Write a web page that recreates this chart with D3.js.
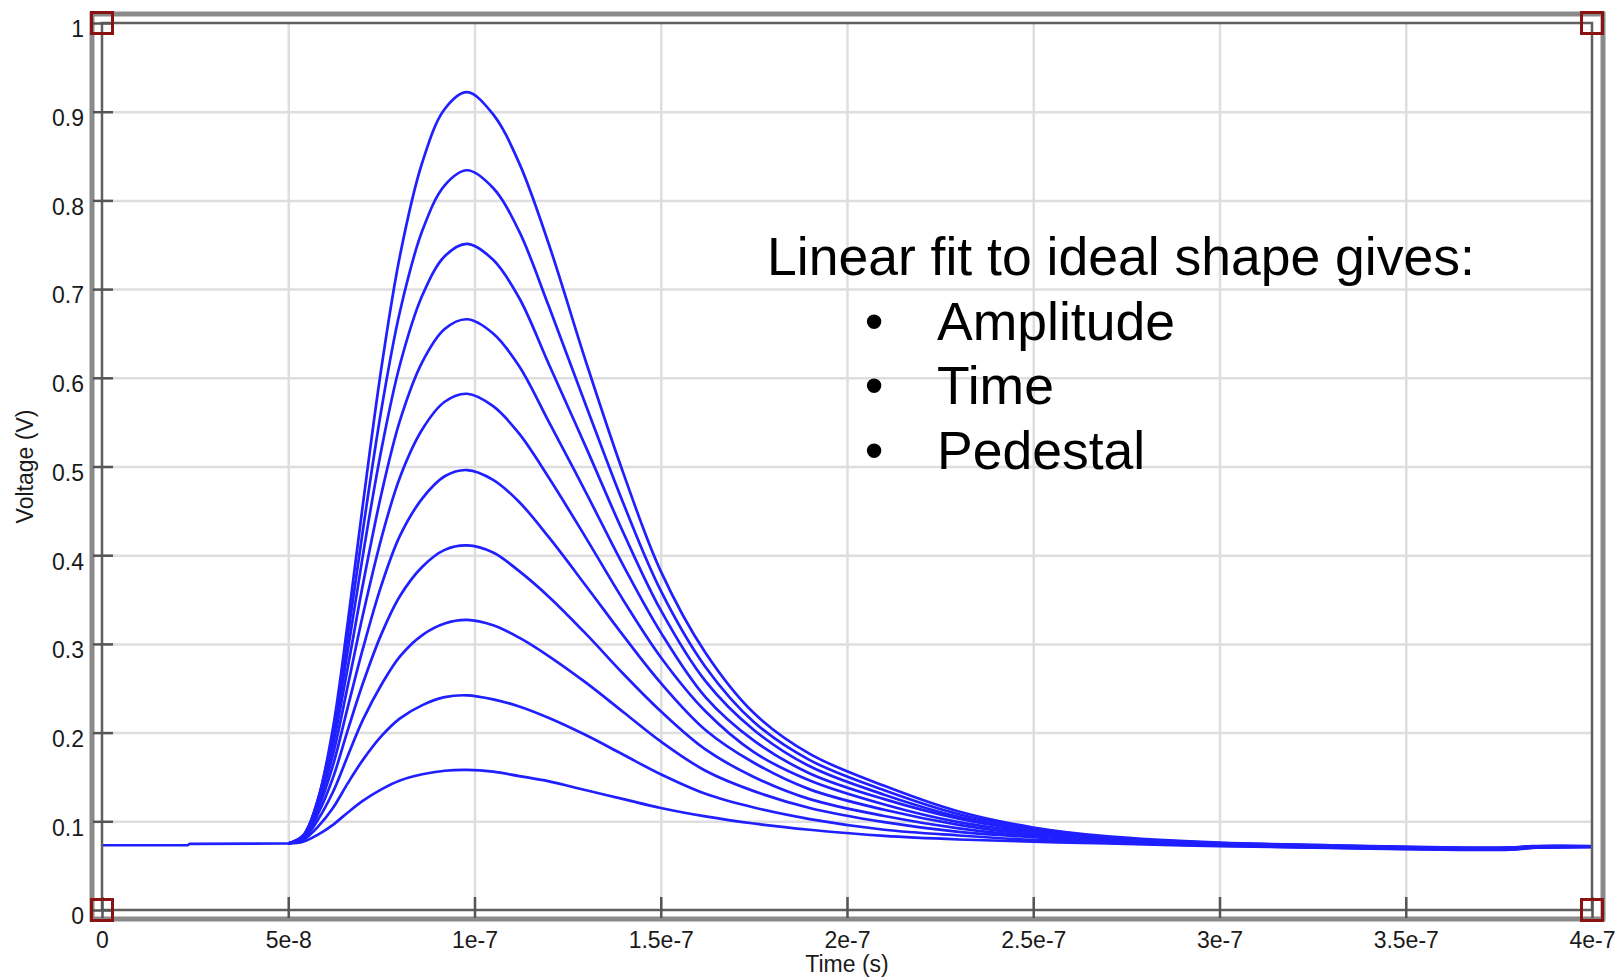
<!DOCTYPE html>
<html>
<head>
<meta charset="utf-8">
<script src="https://cdn.jsdelivr.net/npm/d3@7"></script>
<style>
  html, body { margin: 0; padding: 0; background: #ffffff; }
  svg { display: block; }
  text { font-family: "Liberation Sans", Arial, Helvetica, sans-serif; }
</style>
</head>
<body>
<svg id="chart" width="1619" height="979"></svg>
<script>
// Sample times of the pulse records (ns)
const pulseTimesNs = [50, 54, 58, 62, 66, 70, 75, 80, 86, 92, 98, 105, 112, 120, 130, 140,
  150, 162, 175, 190, 210, 230, 250, 270, 300, 330, 360, 378, 384, 400];

// Baseline before the pulses arrive (shared by all records)
const pedestalTimesNs = [0, 23, 23.5, 50];
const pedestalVolts = [0.073, 0.073, 0.0745, 0.075];

// Recorded pulses, smallest to largest (V)
const pulse1 = [0.075, 0.077, 0.085, 0.096, 0.110, 0.123, 0.136, 0.146, 0.153, 0.157, 0.158, 0.156, 0.151, 0.145, 0.135, 0.125, 0.115, 0.1055, 0.0975, 0.0905, 0.0835, 0.0795, 0.077, 0.075, 0.072, 0.0700, 0.0680, 0.0680, 0.0700, 0.0710];
const pulse2 = [0.075, 0.079, 0.094, 0.115, 0.143, 0.169, 0.196, 0.216, 0.231, 0.240, 0.242, 0.2375, 0.2295, 0.2165, 0.197, 0.175, 0.153, 0.131, 0.1155, 0.1025, 0.0905, 0.084, 0.079, 0.076, 0.0725, 0.0703, 0.0683, 0.0683, 0.0702, 0.0711];
const pulse3 = [0.075, 0.080, 0.102, 0.133, 0.174, 0.214, 0.254, 0.286, 0.310, 0.323, 0.327, 0.321, 0.307, 0.286, 0.256, 0.223, 0.190, 0.157, 0.134, 0.115, 0.099, 0.088, 0.082, 0.077, 0.073, 0.0707, 0.0686, 0.0686, 0.0704, 0.0712];
const pulse4 = [0.075, 0.081, 0.1085, 0.149, 0.203, 0.255, 0.311, 0.354, 0.387, 0.406, 0.411, 0.403, 0.382, 0.353, 0.311, 0.266, 0.224, 0.181, 0.150, 0.125, 0.106, 0.092, 0.083, 0.078, 0.0735, 0.0710, 0.0688, 0.0688, 0.0707, 0.0713];
const pulse5 = [0.075, 0.082, 0.114, 0.163, 0.229, 0.294, 0.366, 0.422, 0.464, 0.489, 0.496, 0.485, 0.460, 0.420, 0.365, 0.309, 0.256, 0.203, 0.166, 0.136, 0.113, 0.096, 0.085, 0.079, 0.074, 0.0713, 0.0691, 0.0691, 0.0709, 0.0714];
const pulse6 = [0.075, 0.083, 0.119, 0.175, 0.253, 0.332, 0.419, 0.488, 0.542, 0.573, 0.582, 0.568, 0.537, 0.487, 0.419, 0.349, 0.285, 0.224, 0.178, 0.146, 0.119, 0.099, 0.087, 0.079, 0.074, 0.0717, 0.0694, 0.0694, 0.0711, 0.0716];
const pulse7 = [0.075, 0.084, 0.122, 0.186, 0.274, 0.366, 0.469, 0.552, 0.618, 0.655, 0.666, 0.650, 0.613, 0.550, 0.470, 0.388, 0.313, 0.240, 0.191, 0.154, 0.125, 0.103, 0.089, 0.080, 0.0745, 0.0720, 0.0697, 0.0697, 0.0713, 0.0717];
const pulse8 = [0.075, 0.084, 0.124, 0.194, 0.293, 0.399, 0.519, 0.615, 0.693, 0.737, 0.751, 0.733, 0.690, 0.615, 0.521, 0.425, 0.338, 0.258, 0.203, 0.162, 0.130, 0.105, 0.090, 0.081, 0.075, 0.0723, 0.0699, 0.0699, 0.0716, 0.0718];
const pulse9 = [0.075, 0.083, 0.125, 0.200, 0.310, 0.427, 0.564, 0.675, 0.766, 0.817, 0.834, 0.814, 0.765, 0.680, 0.568, 0.458, 0.360, 0.274, 0.212, 0.169, 0.135, 0.108, 0.092, 0.082, 0.0755, 0.0727, 0.0702, 0.0702, 0.0718, 0.0719];
const pulse10 = [0.075, 0.083, 0.125, 0.205, 0.325, 0.456, 0.611, 0.738, 0.843, 0.903, 0.922, 0.897, 0.842, 0.750, 0.617, 0.492, 0.382, 0.290, 0.222, 0.176, 0.140, 0.111, 0.093, 0.083, 0.076, 0.0730, 0.0705, 0.0705, 0.0720, 0.0720];

const pulses = [pulse1, pulse2, pulse3, pulse4, pulse5, pulse6, pulse7, pulse8, pulse9, pulse10];

// Axis ticks and labels
const xTickValues = [0, 5e-8, 1e-7, 1.5e-7, 2e-7, 2.5e-7, 3e-7, 3.5e-7, 4e-7];
const xTickLabels = ["0", "5e-8", "1e-7", "1.5e-7", "2e-7", "2.5e-7", "3e-7", "3.5e-7", "4e-7"];
const yTickValues = [0, 0.1, 0.2, 0.3, 0.4, 0.5, 0.6, 0.7, 0.8, 0.9, 1];
const yTickLabels = ["0", "0.1", "0.2", "0.3", "0.4", "0.5", "0.6", "0.7", "0.8", "0.9", "1"];

const xTitle = "Time (s)";
const yTitle = "Voltage (V)";
const noteTitle = "Linear fit to ideal shape gives:";
const noteItems = ["Amplitude", "Time", "Pedestal"];

// ---- layout ----
const plot = { left: 102, right: 1592, top: 23, bottom: 910 };
const svg = d3.select("#chart");

const x = d3.scaleLinear().domain([0, 4e-7]).range([plot.left, plot.right]);
const y = d3.scaleLinear().domain([0, 1]).range([plot.bottom, plot.top]);

const defs = svg.append("defs");
defs.append("filter").attr("id", "soft")
  .attr("x", "-5%").attr("y", "-5%").attr("width", "110%").attr("height", "110%")
  .append("feGaussianBlur").attr("stdDeviation", 0.7);

// Grid
const grid = svg.append("g").attr("class", "grid");
grid.append("g")
  .attr("transform", `translate(0,${plot.bottom})`)
  .call(d3.axisBottom(x).tickValues(xTickValues.slice(1, -1))
    .tickSize(-(plot.bottom - plot.top)).tickFormat(""))
  .call(g => g.select(".domain").remove())
  .call(g => g.selectAll("line").attr("stroke", "#dedede").attr("stroke-width", 2.5));
grid.append("g")
  .attr("transform", `translate(${plot.left},0)`)
  .call(d3.axisLeft(y).tickValues(yTickValues.slice(1, -1))
    .tickSize(-(plot.right - plot.left)).tickFormat(""))
  .call(g => g.select(".domain").remove())
  .call(g => g.selectAll("line").attr("stroke", "#dedede").attr("stroke-width", 2.5));

// Pulses
const pulseLine = d3.line()
  .x(d => x(d[0] * 1e-9))
  .y(d => y(d[1]))
  .curve(d3.curveCatmullRom.alpha(0.5));
const pedestalLine = d3.line()
  .x(d => x(d[0] * 1e-9))
  .y(d => y(d[1]));

const traces = svg.append("g").attr("class", "traces")
  .attr("fill", "none").attr("stroke", "#1f1fff")
  .attr("stroke-width", 2.7).attr("stroke-linejoin", "round");

traces.append("path")
  .attr("d", pedestalLine(pedestalTimesNs.map((t, i) => [t, pedestalVolts[i]])));

traces.selectAll("path.pulse")
  .data(pulses)
  .join("path")
  .attr("class", "pulse")
  .attr("d", p => pulseLine(pulseTimesNs.map((t, i) => [t, p[i]])));

// Outer frame and inner axis box
svg.append("rect")
  .attr("x", 92).attr("y", 14)
  .attr("width", 1603 - 92).attr("height", 919 - 14)
  .attr("fill", "none").attr("stroke", "#8a8a8a").attr("stroke-width", 5)
  .attr("filter", "url(#soft)");

svg.append("rect")
  .attr("x", plot.left).attr("y", plot.top)
  .attr("width", plot.right - plot.left).attr("height", plot.bottom - plot.top)
  .attr("fill", "none").attr("stroke", "#5e5e5e").attr("stroke-width", 2.5)
  .attr("filter", "url(#soft)");

// Axes with ticks
const fontSize = 23;
const xAxis = svg.append("g")
  .attr("transform", `translate(0,${plot.bottom})`)
  .call(d3.axisBottom(x).tickValues(xTickValues)
    .tickFormat((d, i) => xTickLabels[i]).tickSizeOuter(0));
xAxis.select(".domain").remove();
xAxis.selectAll(".tick line")
  .attr("y1", 8).attr("y2", -13)
  .attr("stroke", "#555").attr("stroke-width", 2.5);
xAxis.selectAll(".tick text")
  .attr("y", 38).attr("dy", null)
  .attr("fill", "#1a1a1a").attr("font-size", fontSize)
  .attr("font-family", "Liberation Sans, Arial, sans-serif");

const yAxis = svg.append("g")
  .attr("transform", `translate(${plot.left},0)`)
  .call(d3.axisLeft(y).tickValues(yTickValues)
    .tickFormat((d, i) => yTickLabels[i]).tickSizeOuter(0));
yAxis.select(".domain").remove();
yAxis.selectAll(".tick line")
  .attr("x1", -9).attr("x2", 11)
  .attr("stroke", "#555").attr("stroke-width", 2.5);
yAxis.selectAll(".tick text")
  .attr("x", -18).attr("dy", "0.6em")
  .attr("fill", "#1a1a1a").attr("font-size", fontSize)
  .attr("font-family", "Liberation Sans, Arial, sans-serif");

// Corner markers
const corners = [[x.domain()[0], y.domain()[1]], [x.domain()[1], y.domain()[1]],
                 [x.domain()[0], y.domain()[0]], [x.domain()[1], y.domain()[0]]];
svg.append("g").selectAll("rect")
  .data(corners)
  .join("rect")
  .attr("x", d => x(d[0]) - 10.5).attr("y", d => y(d[1]) - 10.5)
  .attr("width", 21).attr("height", 21)
  .attr("fill", "none").attr("stroke", "#8b1212").attr("stroke-width", 3);

// Axis titles
svg.append("text")
  .attr("x", (plot.left + plot.right) / 2).attr("y", 972)
  .attr("text-anchor", "middle").attr("font-size", fontSize).attr("fill", "#1a1a1a")
  .text(xTitle);
svg.append("text")
  .attr("transform", `translate(33,${(plot.top + plot.bottom) / 2}) rotate(-90)`)
  .attr("text-anchor", "middle").attr("font-size", fontSize).attr("fill", "#1a1a1a")
  .text(yTitle);

// Annotation
const note = svg.append("g").attr("fill", "#000").attr("font-size", 53.5);
note.append("text").attr("x", 767).attr("y", 275).text(noteTitle);
note.selectAll("text.item")
  .data(noteItems)
  .join("text")
  .attr("class", "item")
  .attr("x", 937).attr("y", (d, i) => 340 + i * 64.3)
  .text(d => d);
note.selectAll("text.bullet")
  .data(noteItems)
  .join("text")
  .attr("class", "bullet")
  .attr("x", 874).attr("y", (d, i) => 340 + i * 64.3)
  .attr("text-anchor", "middle")
  .text("\u2022");
</script>
</body>
</html>
